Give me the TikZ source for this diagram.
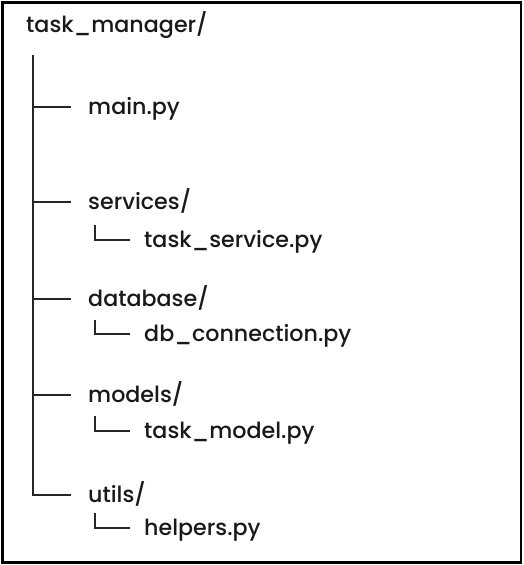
\documentclass[tikz,border=0pt]{standalone}
\usepackage{fontspec}
\setmainfont{Poppins}[UprightFont=* Medium]
\usetikzlibrary{calc,positioning}

\begin{document}
\begin{tikzpicture}[x=1pt,y=-1pt,
			item/.style={anchor=west,inner sep=0pt,text height=14pt,text depth=0pt,
				font=\fontsize{22.2}{26}\selectfont,text=black!90},
			branch/.style={line width=1.3pt,black!85}]
			\useasboundingbox (0,0) rectangle (524,565);
			\draw[line width=2.8pt] (2.5,2.5) rectangle (521,562.5);
			
			\node[item] (root) at (26,25) {task\_manager/};
			\coordinate (top) at (33,55);
			
			\node[item] (main) at (88,107) {main.py};
			\node[item] (services) at (88,202) {services/};
			\node[item] (database) at (88,299) {database/};
			\node[item] (models) at (88,395) {models/};
			\node[item] (utils) at (88,495) {utils/};
			
			\node[item] (svc) at (144,240) {task\_service.py};
			\node[item] (db) at (144,334) {db\_connection.py};
			\node[item] (mdl) at (144,431) {task\_model.py};
			\node[item] (hlp) at (144,528) {helpers.py};
			
			% trunk and first level
			\draw[branch] (top) |- ($(utils.west)+(-17,0)$);
			\draw[branch] (top |- main.west) -- ($(main.west)+(-17,0)$);
			\draw[branch] (top |- services.west) -- ($(services.west)+(-17,0)$);
			\draw[branch] (top |- database.west) -- ($(database.west)+(-17,0)$);
			\draw[branch] (top |- models.west) -- ($(models.west)+(-17,0)$);
			
			% second level
			\draw[branch] ($(services.west)+(7,23)$) |- ($(svc.west)+(-14,0)$);
			\draw[branch] ($(database.west)+(7,21)$) |- ($(db.west)+(-14,0)$);
			\draw[branch] ($(models.west)+(7,21)$) |- ($(mdl.west)+(-14,0)$);
			\draw[branch] ($(utils.west)+(7,18)$) |- ($(hlp.west)+(-14,0)$);
		\end{tikzpicture}
\end{document}
